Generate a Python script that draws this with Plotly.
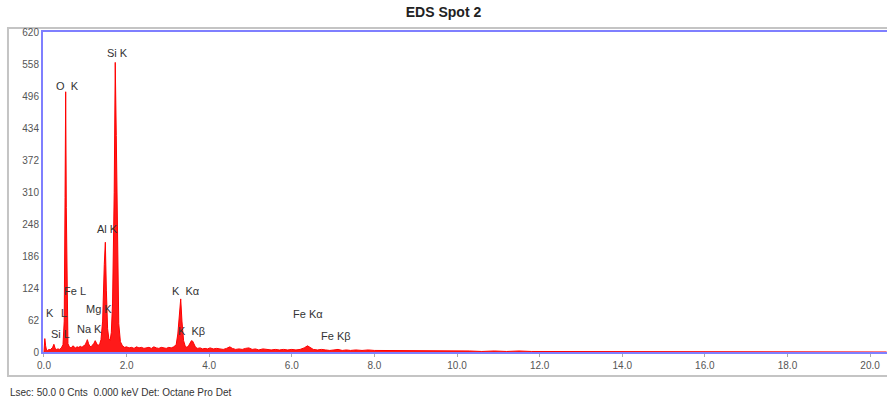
import plotly.graph_objects as go

# Spectrum (energy in keV, counts)
energy_kev = [0.00, 0.02, 0.04, 0.06, 0.09, 0.12, 0.15, 0.18, 0.21, 0.24, 0.27, 0.30, 0.34, 0.38, 0.42,
              0.46, 0.49, 0.51, 0.525, 0.54, 0.56, 0.58, 0.62, 0.66, 0.70, 0.73, 0.76, 0.80, 0.84, 0.88,
              0.92, 0.96, 1.00, 1.03, 1.05, 1.08, 1.11, 1.14, 1.18, 1.21, 1.24, 1.26, 1.29, 1.32, 1.35,
              1.38, 1.42, 1.46, 1.485, 1.51, 1.54, 1.57, 1.60, 1.63, 1.66, 1.70, 1.725, 1.75, 1.78, 1.81,
              1.85, 1.90, 1.95, 2.00, 2.06, 2.12, 2.18, 2.24, 2.30, 2.36, 2.42, 2.48, 2.54, 2.60, 2.66,
              2.72, 2.78, 2.84, 2.90, 2.96, 3.02, 3.08, 3.14, 3.20, 3.24, 3.28, 3.31, 3.34, 3.38, 3.42,
              3.46, 3.50, 3.54, 3.57, 3.60, 3.63, 3.67, 3.72, 3.78, 3.84, 3.90, 3.96, 4.02, 4.10, 4.18,
              4.26, 4.34, 4.42, 4.50, 4.56, 4.64, 4.72, 4.80, 4.88, 4.96, 5.04, 5.12, 5.20, 5.30, 5.40,
              5.50, 5.60, 5.70, 5.80, 5.90, 6.00, 6.10, 6.20, 6.30, 6.38, 6.44, 6.52, 6.62, 6.72, 6.82,
              6.92, 7.02, 7.12, 7.22, 7.32, 7.42, 7.55, 7.70, 7.85, 8.00, 8.20, 8.40, 8.60, 8.80, 9.00,
              9.20, 9.40, 9.60, 9.80, 10.00, 10.30, 10.60, 10.90, 11.20, 11.50, 11.80, 12.10, 12.40,
              12.70, 13.00, 13.40, 13.80, 14.20, 14.60, 15.00, 16.00, 17.00, 18.00, 19.00, 20.00, 20.40]
counts = [0, 26, 12, 4, 3, 5, 4, 7, 9, 15, 7, 5, 6, 5, 8,
          14, 60, 300, 505, 280, 55, 16, 9, 8, 12, 9, 8, 10, 9, 11,
          9, 12, 14, 20, 24, 16, 11, 10, 13, 17, 22, 18, 14, 13, 16,
          24, 60, 170, 213, 120, 45, 26, 22, 38, 95, 310, 562, 420, 160, 55,
          20, 12, 9, 10, 8, 9, 7, 10, 8, 9, 7, 8, 9, 7, 10,
          8, 7, 9, 8, 7, 9, 8, 10, 14, 35, 75, 103, 60, 22, 11,
          9, 12, 18, 22, 21, 14, 9, 7, 8, 6, 7, 6, 8, 6, 7,
          6, 5, 7, 10, 7, 5, 6, 5, 7, 8, 5, 6, 4, 6, 5,
          4, 5, 4, 5, 4, 5, 4, 5, 8, 12, 9, 5, 4, 5, 4,
          3, 4, 5, 3, 4, 3, 4, 3, 4, 3, 3, 2, 3, 2, 3,
          2, 3, 2, 2, 2, 2, 1, 2, 1, 2, 1, 1, 1,
          1, 1, 0, 1, 0, 0, 0, 0, 0, 0, 0, 0, 0]

# Peak labels (text, energy keV, counts)
label_text = ["Si K", "O  K", "Al K", "K  Kα", "K  Kβ", "Fe Kα", "Fe Kβ",
              "K", "L", "Fe L", "Mg K", "Si L", "Na K"]
label_x = [1.79, 0.58, 1.53, 3.44, 3.58, 6.38, 7.08,
           0.15, 0.48, 0.75, 1.33, 0.41, 1.11]
label_y = [581, 517, 238, 119, 41, 74, 31,
           76, 76, 119, 84, 35, 45]

y_ticks = [0, 62, 124, 186, 248, 310, 372, 434, 496, 558, 620]
x_ticks = [0, 2, 4, 6, 8, 10, 12, 14, 16, 18, 20]

FONT = "Liberation Sans, Arial, sans-serif"

fig = go.Figure()
fig.add_trace(go.Scatter(
    x=energy_kev, y=counts, mode="lines", fill="tozeroy",
    line=dict(color="#ff0000", width=1), fillcolor="#ff1a1a",
    hoverinfo="x+y", showlegend=False))

for t, x, y in zip(label_text, label_x, label_y):
    fig.add_annotation(x=x, y=y, text=t, showarrow=False, xref="x", yref="y",
                       font=dict(family=FONT, size=11, color="#333333"))

# Outer gray frame
fig.add_shape(type="rect", xref="paper", yref="paper",
              x0=-0.0415, x1=1.05, y0=-0.075, y1=1.0125,
              line=dict(color="#c4c4c4", width=2), fillcolor="rgba(0,0,0,0)", layer="below")

fig.add_annotation(text="Lsec: 50.0 0 Cnts  0.000 keV Det: Octane Pro Det",
                   xref="paper", yref="paper", x=-0.0415, y=-0.125,
                   xanchor="left", yanchor="middle", showarrow=False,
                   font=dict(family=FONT, size=10, color="#333333"))

fig.update_layout(
    width=887, height=402,
    margin=dict(l=43, r=0, t=32, b=50, autoexpand=False),
    paper_bgcolor="white", plot_bgcolor="white",
    title=dict(text="<b>EDS Spot 2</b>", x=0.5, xanchor="center", y=0.97, yanchor="middle",
               yref="container", automargin=False,
               font=dict(family=FONT, size=14, color="#222222")),
    xaxis=dict(range=[-0.024, 20.41], tickvals=x_ticks, tickformat=".1f", automargin=False,
               showgrid=False, zeroline=False, showline=True, mirror=True,
               linecolor="#7f7fff", linewidth=2, ticks="outside", ticklen=3,
               tickcolor="#aaaaaa",
               tickfont=dict(family=FONT, size=10, color="#555555")),
    yaxis=dict(range=[0, 621], tickvals=y_ticks, automargin=False,
               showgrid=False, zeroline=False, showline=True, mirror=False,
               linecolor="#7f7fff", linewidth=2, ticks="", ticklen=2,
               tickfont=dict(family=FONT, size=10, color="#555555")),
)

fig.write_html("out.html", config={"displayModeBar": False},
               post_script="document.body.style.margin='0';document.body.style.overflow='hidden';")
